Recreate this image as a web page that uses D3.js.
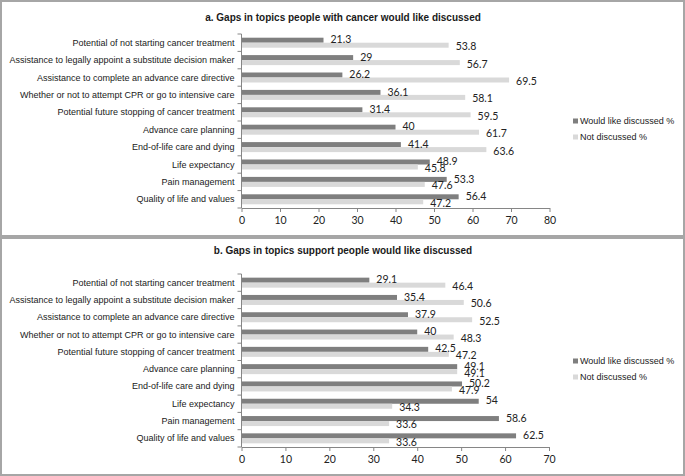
<!DOCTYPE html>
<html>
<head>
<meta charset="utf-8">
<script src="https://cdn.jsdelivr.net/npm/d3@7"></script>
<style>
  html, body { margin: 0; padding: 0; background: #fff; }
  svg { display: block; }
</style>
</head>
<body>
<svg id="chart" width="685" height="476"></svg>
<script>
// ---------- DATA ----------
const categories = [
  "Potential of not starting cancer treatment",
  "Assistance to legally appoint a substitute decision maker",
  "Assistance to complete an advance care directive",
  "Whether or not to attempt CPR or go to intensive care",
  "Potential future stopping of cancer treatment",
  "Advance care planning",
  "End-of-life care and dying",
  "Life expectancy",
  "Pain management",
  "Quality of life and values"
];
const seriesNames = ["Would like discussed %", "Not discussed %"];

const titleA = "a. Gaps in topics people with cancer would like discussed";
const wouldA = [21.3, 29, 26.2, 36.1, 31.4, 40, 41.4, 48.9, 53.3, 56.4];
const notA   = [53.8, 56.7, 69.5, 58.1, 59.5, 61.7, 63.6, 45.8, 47.6, 47.2];
const ticksA = [0, 10, 20, 30, 40, 50, 60, 70, 80];

const titleB = "b. Gaps in topics support people would like discussed";
const wouldB = [29.1, 35.4, 37.9, 40, 42.5, 49.1, 50.2, 54, 58.6, 62.5];
const notB   = [46.4, 50.6, 52.5, 48.3, 47.2, 49.1, 47.9, 34.3, 33.6, 33.6];
const ticksB = [0, 10, 20, 30, 40, 50, 60, 70];

// ---------- DRAW ----------
const svg = d3.select("#chart");
const colors = ["#7f7f7f", "#d9d9d9"];
const axisColor = "#868686";
const frameColor = "#a6a6a6";

// panel frames
svg.append("rect").attr("x", 1).attr("y", 1).attr("width", 683).attr("height", 235)
  .attr("fill", "none").attr("stroke", frameColor).attr("stroke-width", 2);
svg.append("rect").attr("x", 1).attr("y", 238).attr("width", 683).attr("height", 237)
  .attr("fill", "none").attr("stroke", frameColor).attr("stroke-width", 2);

function drawPanel(p) {
  const g = svg.append("g");
  const x = d3.scaleLinear().domain([0, d3.max(p.ticks)]).range([p.x0, p.x1]);
  const y = d3.scaleBand().domain(categories).range([p.y0, p.y1]);
  const bw = y.bandwidth();
  const bh = 5;

  g.append("text").attr("x", 343).attr("y", p.titleY)
    .attr("text-anchor", "middle").attr("dominant-baseline", "central")
    .style("font-family", "'Liberation Sans', Arial, sans-serif")
    .style("font-size", "10px").style("font-weight", "bold").attr("fill", "#1a1a1a")
    .text(p.title);

  const rows = categories.map((c, i) => ({ c, v: [p.would[i], p.not[i]] }));

  // bars
  [0, 1].forEach(s => {
    g.selectAll(null).data(rows).enter().append("rect")
      .attr("x", x(0))
      .attr("y", d => y(d.c) + bw / 2 - (s === 0 ? bh : 0))
      .attr("width", d => x(d.v[s]) - x(0))
      .attr("height", bh)
      .attr("fill", colors[s]);
  });

  // value labels
  [0, 1].forEach(s => {
    g.selectAll(null).data(rows).enter().append("text")
      .attr("x", d => x(d.v[s]) + 7)
      .attr("y", d => y(d.c) + bw / 2 + (s === 0 ? -3.4 : 3.4))
      .attr("dominant-baseline", "central")
      .style("font-family", "Lato, 'Open Sans', sans-serif")
      .style("font-size", "10.5px").attr("fill", "#222")
      .text(d => d.v[s]);
  });

  // y axis
  const yAxis = g.append("g").attr("transform", `translate(${x(0)},0)`);
  yAxis.append("line").attr("x1", 0).attr("x2", 0).attr("y1", p.y0).attr("y2", p.y1)
    .attr("stroke", axisColor);
  const bounds = categories.map(c => y(c)).concat([p.y1]);
  yAxis.selectAll(null).data(bounds).enter().append("line")
    .attr("x1", -4).attr("x2", 0).attr("y1", d => d).attr("y2", d => d)
    .attr("stroke", axisColor);
  yAxis.selectAll(null).data(categories).enter().append("text")
    .attr("x", -7).attr("y", c => y(c) + bw / 2)
    .attr("text-anchor", "end").attr("dominant-baseline", "central")
    .style("font-family", "'Liberation Sans', Arial, sans-serif")
    .style("font-size", "9px").attr("fill", "#1a1a1a")
    .text(c => c);

  // x axis
  const xAxis = g.append("g").attr("transform", `translate(0,${p.y1})`)
    .call(d3.axisBottom(x).tickValues(p.ticks).tickSize(4).tickSizeOuter(0).tickPadding(5));
  xAxis.select(".domain").attr("stroke", axisColor);
  xAxis.selectAll(".tick line").attr("stroke", axisColor);
  xAxis.selectAll(".tick text")
    .style("font-family", "Lato, 'Open Sans', sans-serif")
    .style("font-size", "10.5px").attr("fill", "#222");

  // legend
  const lg = g.append("g");
  seriesNames.forEach((n, i) => {
    const ly = p.legendY + i * 16;
    lg.append("rect").attr("x", 573).attr("y", ly - 2.5).attr("width", 5).attr("height", 5)
      .attr("fill", colors[i]);
    lg.append("text").attr("x", 580).attr("y", ly).attr("dominant-baseline", "central")
      .style("font-family", "'Liberation Sans', Arial, sans-serif")
      .style("font-size", "9px").attr("fill", "#1a1a1a").text(n);
  });
}

drawPanel({ title: titleA, would: wouldA, not: notA, ticks: ticksA,
  x0: 241.5, x1: 549.5, y0: 34, y1: 208, titleY: 17, legendY: 121 });
drawPanel({ title: titleB, would: wouldB, not: notB, ticks: ticksB,
  x0: 241.5, x1: 549, y0: 274, y1: 447, titleY: 250, legendY: 361 });
</script>
</body>
</html>
